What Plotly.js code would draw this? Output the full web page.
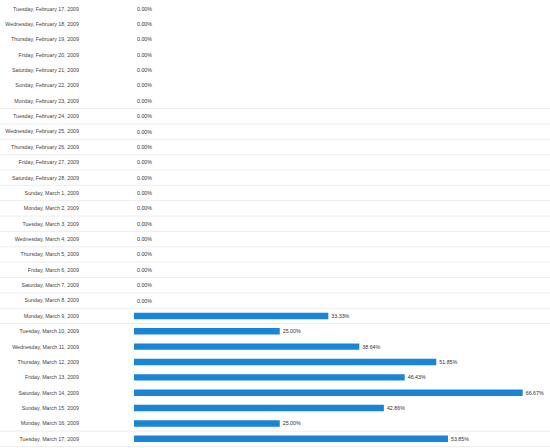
<!DOCTYPE html>
<html>
<head>
<meta charset="utf-8">
<script src="https://cdn.plot.ly/plotly-3.0.1.min.js"></script>
<style>html,body{margin:0;padding:0;background:#fff;}#chart{width:550px;height:448px;}</style>
</head>
<body>
<div id="chart"></div>
<script>
var dates = [
  "Tuesday, February 17, 2009","Wednesday, February 18, 2009","Thursday, February 19, 2009",
  "Friday, February 20, 2009","Saturday, February 21, 2009","Sunday, February 22, 2009",
  "Monday, February 23, 2009","Tuesday, February 24, 2009","Wednesday, February 25, 2009",
  "Thursday, February 26, 2009","Friday, February 27, 2009","Saturday, February 28, 2009",
  "Sunday, March 1, 2009","Monday, March 2, 2009","Tuesday, March 3, 2009",
  "Wednesday, March 4, 2009","Thursday, March 5, 2009","Friday, March 6, 2009",
  "Saturday, March 7, 2009","Sunday, March 8, 2009","Monday, March 9, 2009",
  "Tuesday, March 10, 2009","Wednesday, March 11, 2009","Thursday, March 12, 2009",
  "Friday, March 13, 2009","Saturday, March 14, 2009","Sunday, March 15, 2009",
  "Monday, March 16, 2009","Tuesday, March 17, 2009"
];
var percents = [
  0,0,0,0,0,0,0,0,0,0,0,0,0,0,0,0,0,0,0,0,
  33.33,25.00,38.64,51.85,46.43,66.67,42.86,25.00,53.85
];
// row boundaries (after these row indices) where faint separator lines are visible
var separatorsAfter = [6,7,8,9,10,11,12,13,14,15,16,17,18,19,20,27,28];

var shapes = separatorsAfter.map(function(i){
  return {type:'line', xref:'paper', x0:-1, x1:1, yref:'y', y0:i+0.5, y1:i+0.5,
          line:{color:'#ededed', width:1}, layer:'below'};
});

var trace = {
  type:'bar', orientation:'h',
  y: dates, x: percents,
  marker:{color:'#1a84d6'},
  width:0.42,
  texttemplate:'%{x:.2f}%',
  textposition:'outside',
  constraintext:'none',
  cliponaxis:false,
  textfont:{family:'Liberation Sans, Arial, sans-serif', size:5.3, color:'#333'},
  hoverinfo:'none'
};

var layout = {
  width:550, height:448,
  margin:{l:134, r:0, t:1, b:1, pad:0},
  paper_bgcolor:'#fff', plot_bgcolor:'rgba(0,0,0,0)',
  showlegend:false,
  xaxis:{range:[0,71.35], visible:false, fixedrange:true},
  yaxis:{type:'category', autorange:'reversed', range:[28.5,-0.5],
         showgrid:false, zeroline:false, showline:false, ticks:'',
         ticklabelstandoff:54,
         tickfont:{family:'Liberation Sans, Arial, sans-serif', size:5.3, color:'#444'}},
  shapes: shapes
};

Plotly.newPlot('chart',[trace],layout,{staticPlot:true});
</script>
</body>
</html>
